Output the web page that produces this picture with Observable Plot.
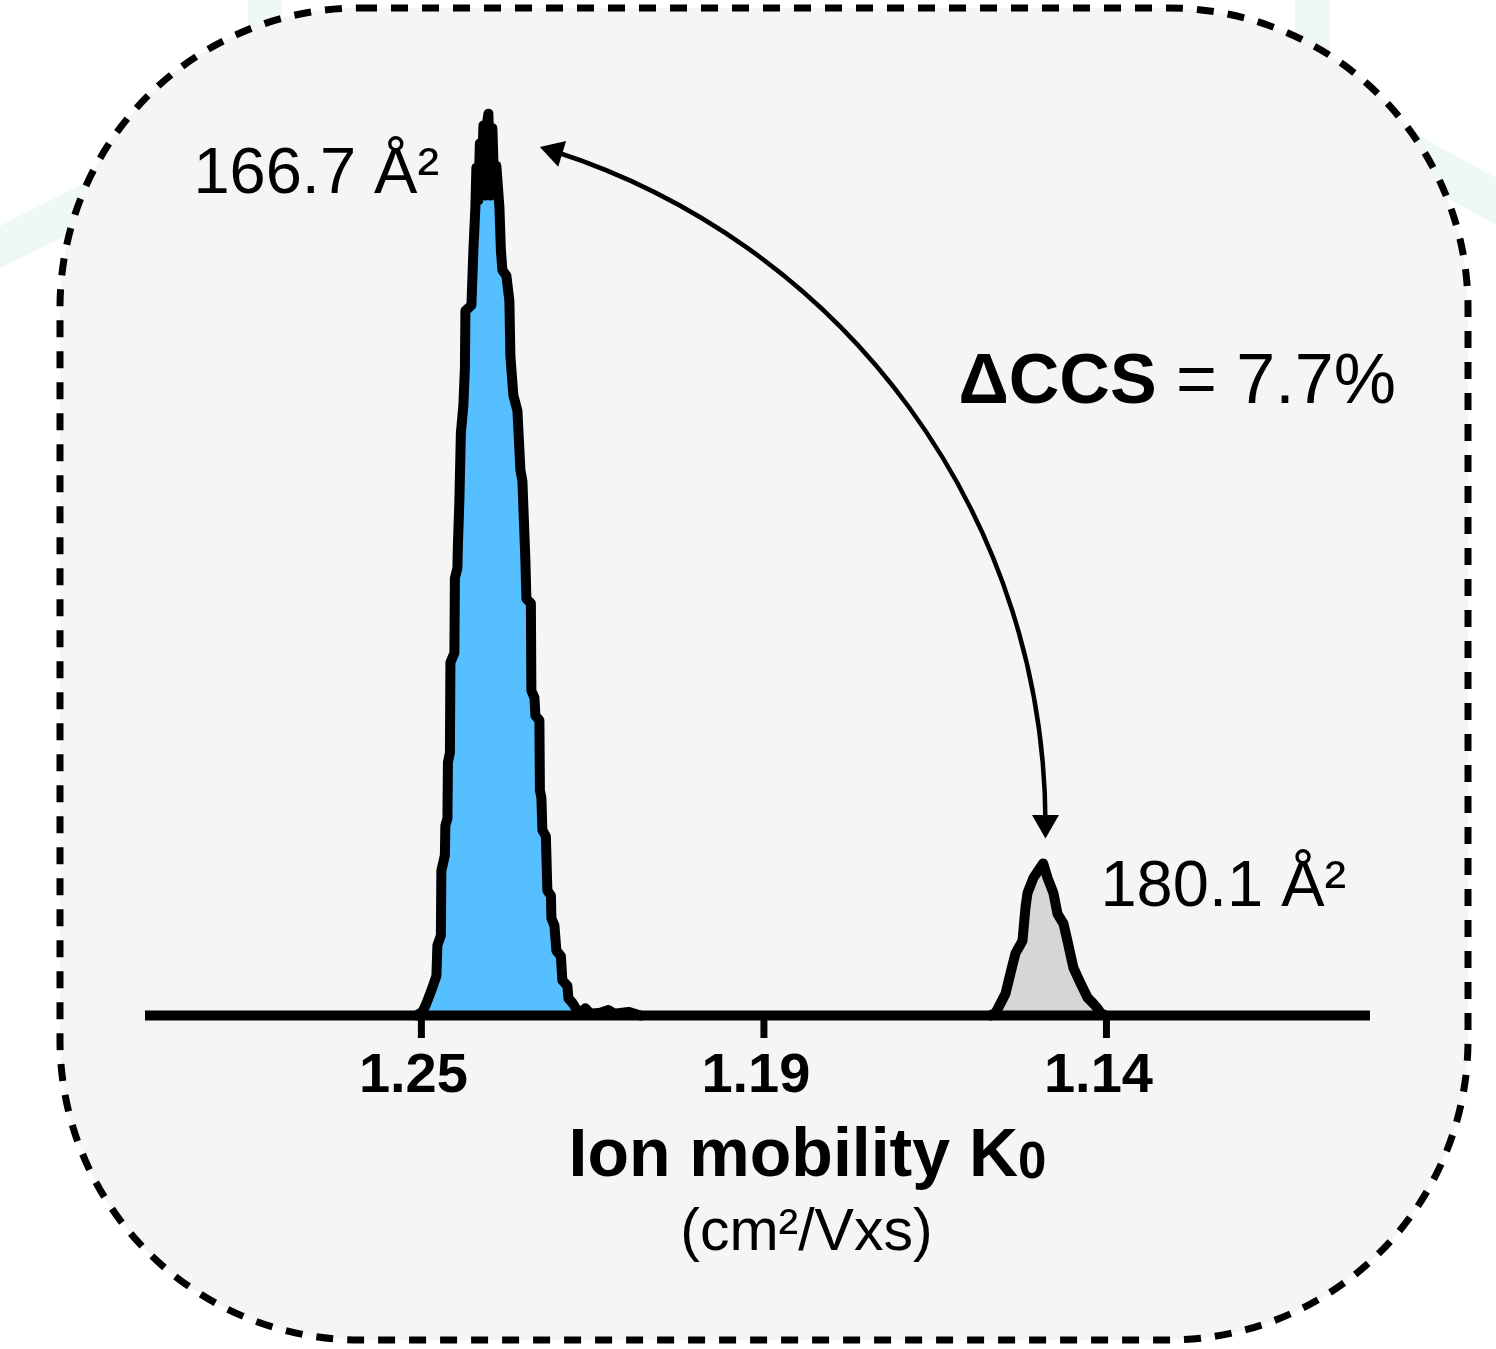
<!DOCTYPE html>
<html>
<head>
<meta charset="utf-8">
<script src="https://cdn.jsdelivr.net/npm/d3@7"></script>
<script src="https://cdn.jsdelivr.net/npm/@observablehq/plot@0.6"></script>
<style>
  html, body { margin: 0; padding: 0; background: #ffffff; }
  #chart svg { display: block; }
</style>
</head>
<body>
<div id="chart"></div>
<script>
// ---- Data ----
// Peak 1 (blue): ion mobility K0 (cm²/Vxs) vs relative intensity
const peakA_k0 = [1.25080,1.24984,1.24928,1.24839,1.24759,1.24743,1.24687,1.24679,1.24623,1.24615,1.24582,1.24574,1.24542,1.24534,1.24470,1.24462,1.24422,1.24414,1.24390,1.24366,1.24326,1.24301,1.24293,1.24197,1.24165,1.24133,1.24117,1.24085,1.24061,1.24036,1.24004,1.23972,1.23940,1.23924,1.23892,1.23860,1.23828,1.23796,1.23747,1.23723,1.23699,1.23635,1.23587,1.23571,1.23523,1.23458,1.23410,1.23378,1.23330,1.23314,1.23242,1.23234,1.23185,1.23169,1.23105,1.23097,1.23073,1.23057,1.23001,1.22977,1.22920,1.22912,1.22864,1.22832,1.22760,1.22736,1.22655,1.22639,1.22575,1.22511,1.22447,1.22366,1.22286,1.22125,1.21997,1.21901,1.21676,1.21483];
const peakA_int = [0,0.4,1.2,2.8,4.4,7.8,8.9,16.1,17.8,21.1,21.9,28.1,29.2,39.2,40.3,48.6,49.7,52.2,57.2,64.7,67.8,72.0,78.3,78.9,85.0,89.8,94.2,90.6,96.9,91.1,98.9,91.1,99.4,100.2,91.1,98.6,91.7,94.4,89.8,85.0,82.8,82.2,79.4,73.3,68.9,67.2,60.6,59.4,50.6,46.3,45.8,36.1,35.3,33.3,32.8,25.0,24.2,20.6,19.9,13.9,13.3,10.8,10.0,7.2,6.6,3.9,3.3,1.9,1.4,0.7,0.3,0.8,0.2,0.3,0.6,0.2,0.4,0];

// Peak 2 (grey)
const peakB_k0 = [1.15862,1.15782,1.15734,1.15622,1.15541,1.15461,1.15348,1.15300,1.15268,1.15172,1.15016,1.14947,1.14851,1.14786,1.14690,1.14626,1.14530,1.14417,1.14305,1.14208,1.14144,1.14096,1.14016];
const peakB_int = [0,0.3,0.9,2.4,4.7,6.9,8.3,12.0,13.6,15.3,16.9,15.3,13.6,11.3,10.2,8.3,5.3,3.6,2.0,1.3,0.8,0.3,0];

// Axis ticks
const tickValues = [1.25, 1.195, 1.14];
const tickLabels = ["1.25", "1.19", "1.14"];

// Texts
const peakLabels = ["166.7 Å²", "180.1 Å²"];
const deltaBold = "ΔCCS";
const deltaRest = " = 7.7%";
const xTitle = "Ion mobility K";
const xTitleSub = "0";
const xUnits = "(cm²/Vxs)";

// ---- Build tables ----
const peakA = peakA_k0.map((k, i) => ({k0: k, intensity: peakA_int[i]}));
const peakB = peakB_k0.map((k, i) => ({k0: k, intensity: peakB_int[i]}));

const FONT = "'Liberation Sans', Arial, Helvetica, sans-serif";

// Decorative background: faint bands + dashed rounded panel
function panel() {
  const g = d3.create("svg:g");
  const band = "#eef8f7";
  g.append("path").attr("d", "M0,226 L120,165 L120,210 L0,268 Z").attr("fill", band);
  g.append("path").attr("d", "M248,0 H282 V60 H248 Z").attr("fill", band);
  g.append("path").attr("d", "M1295,0 H1330 V60 H1295 Z").attr("fill", band);
  g.append("path").attr("d", "M1400,125 L1496,178 L1496,225 L1400,172 Z").attr("fill", band);
  g.append("rect")
    .attr("x", 60).attr("y", 8).attr("width", 1408).attr("height", 1332)
    .attr("rx", 300).attr("ry", 300)
    .attr("fill", "#f5f5f5")
    .attr("stroke", "#000").attr("stroke-width", 7)
    .attr("stroke-dasharray", "17 14");
  return g.node();
}

const svg = Plot.plot({
  width: 1496,
  height: 1349,
  marginLeft: 145,
  marginRight: 126,
  marginTop: 115,
  marginBottom: 334,
  style: {background: "transparent", fontFamily: FONT, overflow: "visible"},
  x: {domain: [1.2943, 1.0976], label: null},
  y: {domain: [0, 100], axis: null, label: null},
  marks: [
    panel,
    Plot.areaY(peakA, {x: "k0", y: "intensity", fill: "#55bfff"}),
    Plot.areaY(peakB, {x: "k0", y: "intensity", fill: "#d6d6d6"}),
    Plot.lineY(peakA, {x: "k0", y: "intensity", stroke: "#000", strokeWidth: 10, strokeLinejoin: "round", strokeLinecap: "round"}),
    Plot.lineY(peakB, {x: "k0", y: "intensity", stroke: "#000", strokeWidth: 10, strokeLinejoin: "round", strokeLinecap: "round"}),
    Plot.ruleY([0], {stroke: "#000", strokeWidth: 10}),
    // tick marks
    Plot.axisX(tickValues, {
      tickFormat: () => "", tickSize: 23, strokeWidth: 7, stroke: "#000", label: null
    }),
    // tick labels (slightly left of the ticks, as in the reference)
    Plot.axisX(tickValues, {
      tickFormat: d => tickLabels[tickValues.indexOf(d)],
      tickSize: 0, tickPadding: 37, dx: -8, strokeOpacity: 0,
      fontSize: 56, fontWeight: "bold", fill: "#000", label: null
    }),
    // peak labels
    Plot.text([peakLabels[0]], {x: () => 1.28661, y: () => 91.4, text: d => d, textAnchor: "start", lineAnchor: "bottom", fontSize: 65, fill: "#000"}),
    Plot.text([peakLabels[1]], {x: () => 1.14096, y: () => 12.2, text: d => d, textAnchor: "start", lineAnchor: "bottom", fontSize: 65, fill: "#000"}),
    // ΔCCS annotation
    Plot.text([deltaBold + deltaRest], {x: () => 1.16376, y: () => 68.1, text: d => d, textAnchor: "start", lineAnchor: "bottom", fontSize: 70, fill: "#000"}),
    // axis title
    Plot.text([xTitle], {x: () => 1.18801, y: () => -17.8, text: d => d, textAnchor: "middle", lineAnchor: "bottom", fontSize: 68, fontWeight: "bold", fill: "#000"}),
    Plot.text([xUnits], {x: () => 1.18817, y: () => -26.1, text: d => d, textAnchor: "middle", lineAnchor: "bottom", fontSize: 59, fill: "#000"}),
    // curved double arrow between the two peaks
    Plot.arrow([{x1: 1.14979, y1: 21.4, x2: 1.22859, y2: 96.0}], {
      x1: "x1", y1: "y1", x2: "x2", y2: "y2",
      bend: -36, headLength: 0, stroke: "#000", strokeWidth: 4.5
    }),
    Plot.dot([{k0: 1.14979, intensity: 21.4, rot: 180}, {k0: 1.22859, intensity: 96.0, rot: -73}], {
      x: "k0", y: "intensity", symbol: "triangle", r: 10, fill: "#000", stroke: "none", rotate: "rot"
    })
  ]
});

// rich text: bold ΔCCS and subscript 0
d3.select(svg).selectAll("text").each(function() {
  const t = this.textContent;
  if (t === deltaBold + deltaRest) {
    this.textContent = "";
    this.setAttribute("style", "white-space: pre");
    d3.select(this).append("tspan").attr("font-weight", "bold").text(deltaBold);
    d3.select(this).append("tspan").attr("font-weight", "normal").text(deltaRest);
  } else if (t === xTitle) {
    d3.select(this).append("tspan").attr("font-size", "0.75em").attr("dy", "0.05em").text(xTitleSub);
  }
});

document.getElementById("chart").appendChild(svg);
</script>
</body>
</html>
